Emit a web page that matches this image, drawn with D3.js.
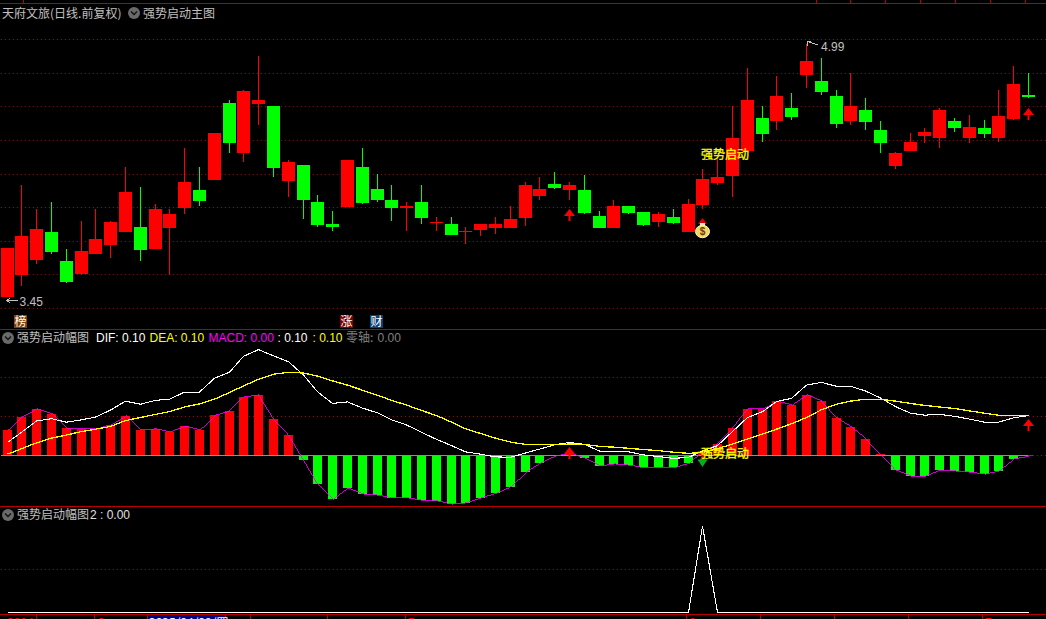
<!DOCTYPE html>
<html><head><meta charset="utf-8">
<script src="https://cdnjs.cloudflare.com/ajax/libs/d3/7.8.5/d3.min.js"></script>
<style>html,body{margin:0;padding:0;background:#000;overflow:hidden}svg{display:block}
text{font-family:"Liberation Sans",sans-serif;font-size:12px}
.cjk{font-family:"Noto Sans CJK SC",sans-serif}</style></head><body>
<script>
const open=[3.452,3.584,3.675,3.846,3.669,3.590,3.712,3.767,3.846,3.876,3.742,3.870,3.992,4.101,4.162,4.631,4.327,4.625,4.613,4.156,4.253,4.028,3.894,3.998,4.241,4.107,4.040,3.992,4.028,3.900,3.894,3.846,3.858,3.870,3.870,3.931,4.065,4.138,4.101,4.101,3.943,3.870,4.004,3.967,3.907,3.937,3.846,4.010,4.144,4.187,4.339,4.540,4.521,4.600,4.801,4.765,4.673,4.521,4.588,4.467,4.247,4.339,4.430,4.418,4.521,4.418,4.479,4.418,4.533,4.680];
const close=[3.748,3.821,3.864,3.724,3.541,3.730,3.803,3.907,4.089,3.736,3.986,3.955,4.150,4.034,4.448,4.387,4.704,4.649,4.235,4.272,4.040,3.888,3.876,4.284,4.022,4.040,3.992,4.004,3.931,3.907,3.827,3.852,3.894,3.894,3.925,4.132,4.107,4.113,4.132,3.961,3.870,4.004,3.961,3.888,3.955,3.900,4.016,4.168,4.180,4.418,4.649,4.442,4.673,4.546,4.887,4.698,4.503,4.613,4.515,4.387,4.327,4.393,4.454,4.588,4.479,4.485,4.442,4.552,4.747,4.667];
const high=[3.748,4.132,3.986,4.028,3.742,3.913,3.986,3.913,4.241,4.120,4.016,3.986,4.357,4.241,4.448,4.649,4.710,4.917,4.613,4.284,4.253,4.071,3.973,4.284,4.357,4.199,4.132,4.028,4.132,3.937,3.937,3.876,3.894,3.937,4.004,4.150,4.180,4.211,4.150,4.193,3.973,4.040,4.004,3.967,3.967,3.986,4.047,4.229,4.304,4.611,4.844,4.613,4.795,4.692,4.990,4.905,4.710,4.811,4.661,4.521,4.333,4.448,4.479,4.600,4.540,4.558,4.527,4.710,4.856,4.813];
const low=[3.452,3.517,3.651,3.712,3.535,3.584,3.712,3.687,3.846,3.669,3.742,3.584,3.955,4.004,4.162,4.327,4.272,4.497,4.180,4.059,3.925,3.876,3.852,3.998,4.016,4.028,3.913,3.852,3.894,3.852,3.827,3.773,3.821,3.833,3.870,3.882,4.040,4.107,4.040,3.955,3.870,3.870,3.955,3.882,3.876,3.894,3.846,3.986,4.132,4.059,4.339,4.393,4.467,4.527,4.722,4.680,4.479,4.497,4.467,4.327,4.229,4.339,4.387,4.357,4.454,4.387,4.418,4.393,4.527,4.661];
const dif=[.033,.059,.088,.094,.085,.091,.098,.116,.139,.131,.141,.144,.162,.162,.198,.213,.254,.271,.255,.240,.206,.163,.133,.137,.121,.109,.091,.078,.059,.041,.025,.009,.003,-.004,-.005,.006,.016,.027,.033,.028,.011,.010,.009,.001,-.003,-.008,-.005,.011,.025,.061,.097,.112,.138,.146,.180,.187,.177,.177,.165,.147,.125,.108,.103,.105,.100,.093,.085,.085,.096,.102];
const dea=[.003,.017,.032,.044,.052,.061,.067,.074,.089,.097,.105,.112,.124,.132,.144,.161,.178,.195,.208,.213,.211,.203,.191,.180,.167,.154,.141,.129,.115,.102,.085,.068,.056,.044,.034,.028,.027,.027,.029,.028,.023,.021,.018,.015,.012,.008,.005,.007,.017,.029,.042,.055,.067,.081,.097,.117,.131,.139,.144,.144,.139,.133,.128,.124,.120,.114,.108,.103,.102,.102];
const macd=[.065,.099,.119,.106,.070,.068,.068,.078,.101,.065,.068,.060,.075,.065,.103,.114,.150,.155,.093,.052,-.012,-.074,-.112,-.084,-.099,-.102,-.109,-.109,-.115,-.117,-.125,-.122,-.109,-.097,-.081,-.043,-.020,-.002,.006,-.007,-.027,-.022,-.025,-.032,-.030,-.032,-.020,.011,.029,.070,.119,.119,.139,.129,.155,.139,.096,.073,.042,.003,-.038,-.053,-.053,-.038,-.040,-.043,-.048,-.040,-.009,-.003];
const pulse=[0,0,0,0,0,0,0,0,0,0,0,0,0,0,0,0,0,0,0,0,0,0,0,0,0,0,0,0,0,0,0,0,0,0,0,0,0,0,0,0,0,0,0,0,0,0,0,1,0,0,0,0,0,0,0,0,0,0,0,0,0,0,0,0,0,0,0,0,0,0];
const priceGrid=[5.018,4.811,4.611,4.404,4.197,3.996,3.789,3.588,3.381];
const macdGrid=[0.2,0.1,0];
const pulseGrid=[0.5];
const dateTicks=[36,94,147,225,250,327,405,686,760,834,908,982];
const topTicks=[23,816,850,885,920,955,990,1025];

const W=1046,H=619;
const svg=d3.select("body").append("svg").attr("width",W).attr("height",H).style("background","#000");
const idx=d3.range(open.length);
const xs=d3.scalePoint().domain(idx).range([7,1028.5]);
const cx=i=>Math.floor(xs(i));
const yP=d3.scaleLinear().domain([3.45,4.99]).range([297,44]);
const yM=d3.scaleLinear().domain([0,0.1]).range([455.33,416.33]);
const yS=d3.scaleLinear().domain([0,1]).range([612.5,526]);
const RED="#ff0000",GREEN="#00ff00",LINE="#b80000",DOT="#a00000",TXT="#c0c0c0";

function hline(y,x0,x1,c,dash){svg.append("line").attr("x1",x0).attr("x2",x1).attr("y1",y).attr("y2",y)
 .attr("stroke",c).attr("stroke-width",1).attr("stroke-dasharray",dash||null).attr("shape-rendering","crispEdges");}
priceGrid.forEach(v=>hline(Math.floor(yP(v))+.5,1,W,DOT,"1 3"));
macdGrid.forEach(v=>hline(Math.floor(yM(v))+.5,1,W,DOT,"1 3"));
pulseGrid.forEach(v=>hline(Math.floor(yS(v))+.5,1,W,DOT,"1 3"));
[3.5,329.5,506.5,614.5].forEach(y=>hline(y,0,W,LINE));
topTicks.forEach(x=>svg.append("rect").attr("x",x).attr("y",0).attr("width",1).attr("height",3).attr("fill",LINE));
dateTicks.forEach(x=>svg.append("rect").attr("x",x).attr("y",615).attr("width",1).attr("height",4).attr("fill",LINE));

// candles
const col=i=>close[i]>=open[i]?RED:GREEN;
svg.append("g").selectAll("rect").data(idx).join("rect")
 .attr("x",i=>cx(i)).attr("width",1)
 .attr("y",i=>Math.round(yP(high[i]))).attr("height",i=>Math.max(1,Math.round(yP(low[i]))-Math.round(yP(high[i]))))
 .attr("fill",col);
svg.append("g").selectAll("rect").data(idx).join("rect")
 .attr("x",i=>cx(i)-6).attr("width",13)
 .attr("y",i=>Math.round(yP(Math.max(open[i],close[i]))))
 .attr("height",i=>Math.max(1,Math.round(yP(Math.min(open[i],close[i])))-Math.round(yP(Math.max(open[i],close[i])))))
 .attr("fill",col);

// macd bars
svg.append("g").selectAll("rect").data(idx).join("rect")
 .attr("x",i=>cx(i)-4).attr("width",9)
 .attr("y",i=>Math.round(Math.min(yM(macd[i]),yM(0))))
 .attr("height",i=>Math.round(Math.abs(yM(macd[i])-yM(0))))
 .attr("fill",i=>macd[i]>=0?RED:GREEN);
svg.append("rect").attr("x",1).attr("y",455).attr("width",1032).attr("height",1).attr("fill",RED);
svg.append("rect").attr("x",1).attr("y",455).attr("width",1027).attr("height",1.4).attr("fill","#909090").attr("shape-rendering","crispEdges");

function path(vals,y,c,w){const l=d3.line().x((d,i)=>cx(i)+.5).y(d=>y(d));
 svg.append("path").attr("d",l(vals)).attr("fill","none").attr("stroke",c).attr("stroke-width",w).attr("shape-rendering","crispEdges");}
path(macd,yM,"#ff00ff",.8);
path(dif,yM,"#ffffff",1.1);
path(dea,yM,"#ffff00",1.3);
path(pulse,yS,"#ffffff",1.1);

// arrows
function arrow(i,yTop,c){const x=cx(i)+.5;
 svg.append("path").attr("d",`M${x},${yTop}L${x+5.5},${yTop+7}L${x-5.5},${yTop+7}Z`).attr("fill",c);
 svg.append("rect").attr("x",x-1).attr("y",yTop+7).attr("width",2).attr("height",5).attr("fill",c);}
arrow(38,yP(3.986),RED);
arrow(69,yP(4.60),RED);
arrow(38,447,RED);
arrow(69,419,RED);
// signal marks on the start candle
{const x=cx(47)+.5;
 svg.append("path").attr("d",`M${x},456L${x+3},460L${x-3},460Z`).attr("fill",RED);
 svg.append("rect").attr("x",x-1).attr("y",457).attr("width",2).attr("height",5).attr("fill","#00c020");
 svg.append("path").attr("d",`M${x-5},459.5L${x+5},459.5L${x},467Z`).attr("fill","#00b020");
 svg.append("rect").attr("x",x-1).attr("y",452).attr("width",2).attr("height",6).attr("fill",RED);
 // money bag
 const g=svg.append("g");
 g.append("path").attr("d",`M${x},218L${x+4.5},224L${x-4.5},224Z`).attr("fill","#e00000");
 g.append("rect").attr("x",x-2.5).attr("y",223).attr("width",5).attr("height",3).attr("fill","#f4e8b0");
 g.append("ellipse").attr("cx",x).attr("cy",231.5).attr("rx",7).attr("ry",6.2).attr("fill","#f2d860").attr("stroke","#fff3c0").attr("stroke-width",1);
 g.append("text").attr("x",x).attr("y",235).attr("text-anchor","middle").style("font-size","10px").style("font-weight","bold").attr("fill","#6b3a10").text("$");
}

function txt(x,y,s,c,cjk){return svg.append("text").attr("x",x).attr("y",y).attr("fill",c).attr("class",cjk?"cjk":null).text(s);}
function chevron(x,y){svg.append("circle").attr("cx",x).attr("cy",y).attr("r",6).attr("fill","#6a6a6a");
 svg.append("path").attr("d",`M${x-3},${y-1.5}L${x},${y+1.5}L${x+3},${y-1.5}`).attr("fill","none").attr("stroke","#111").attr("stroke-width",1.3);}

txt(2,18,"天府文旅(日线.前复权)",TXT,true);
chevron(134,13);
txt(143,18,"强势启动主图",TXT,true);
chevron(8,338);
txt(17,342,"强势启动幅图",TXT,true);
txt(96,342,"DIF: 0.10","#ffffff");
txt(149.5,342,"DEA: 0.10","#ffff00");
txt(208.5,342,"MACD: 0.00","#ff00ff");
txt(277.5,342,": 0.10","#ffffff");
txt(312.5,342,": 0.10","#ffff00");
txt(346,342,"零轴:","#808080",true);
txt(377.5,342,"0.00","#808080");
chevron(8,515);
txt(17,519,"强势启动幅图",TXT,true);
txt(90,519,"2 : 0.00","#e0e0e0");

txt(701,159,"强势启动","#ffff00",true).attr("stroke","#ffff00").attr("stroke-width",.3);
txt(701,458,"强势启动","#ffff00",true).attr("stroke","#ffff00").attr("stroke-width",.3);

// high / low tags
txt(19.5,305.5,d3.min(low).toFixed(2),TXT);
svg.append("path").attr("d","M18,300.5H7M10,298L7,300.5L10,303").attr("fill","none").attr("stroke",TXT).attr("shape-rendering","crispEdges");
txt(821,51,d3.max(high).toFixed(2),TXT);
svg.append("path").attr("d","M818,45L807,41.5M807,41.5V46M807,41.5H811").attr("fill","none").attr("stroke",TXT).attr("shape-rendering","crispEdges");

// badges
function badge(i,c,s){const x=cx(i)-7;
 svg.append("rect").attr("x",x).attr("y",315).attr("width",13).attr("height",13).attr("fill",c);
 svg.append("text").attr("x",x+.5).attr("y",326).attr("class","cjk").attr("fill","#fff").text(s);}
badge(1,"#804000","榜");
badge(23,"#800000","涨");
badge(25,"#0a3f78","财");

// date axis (clipped by the window's bottom edge, as in the reference)
svg.append("rect").attr("x",147).attr("y",615).attr("width",78).attr("height",4).attr("fill","#000080");
svg.append("rect").attr("x",147).attr("y",615).attr("width",1).attr("height",4).attr("fill",LINE);
svg.append("rect").attr("x",225).attr("y",615).attr("width",1).attr("height",4).attr("fill",LINE);
txt(149,627,"2025/04/09/四","#ffffff",true);
txt(7,627,"2024",RED);
txt(98,627,"3",RED);
txt(408,627,"5",RED);
txt(689,627,"6",RED);
txt(985,627,"7",RED);
</script></body></html>
